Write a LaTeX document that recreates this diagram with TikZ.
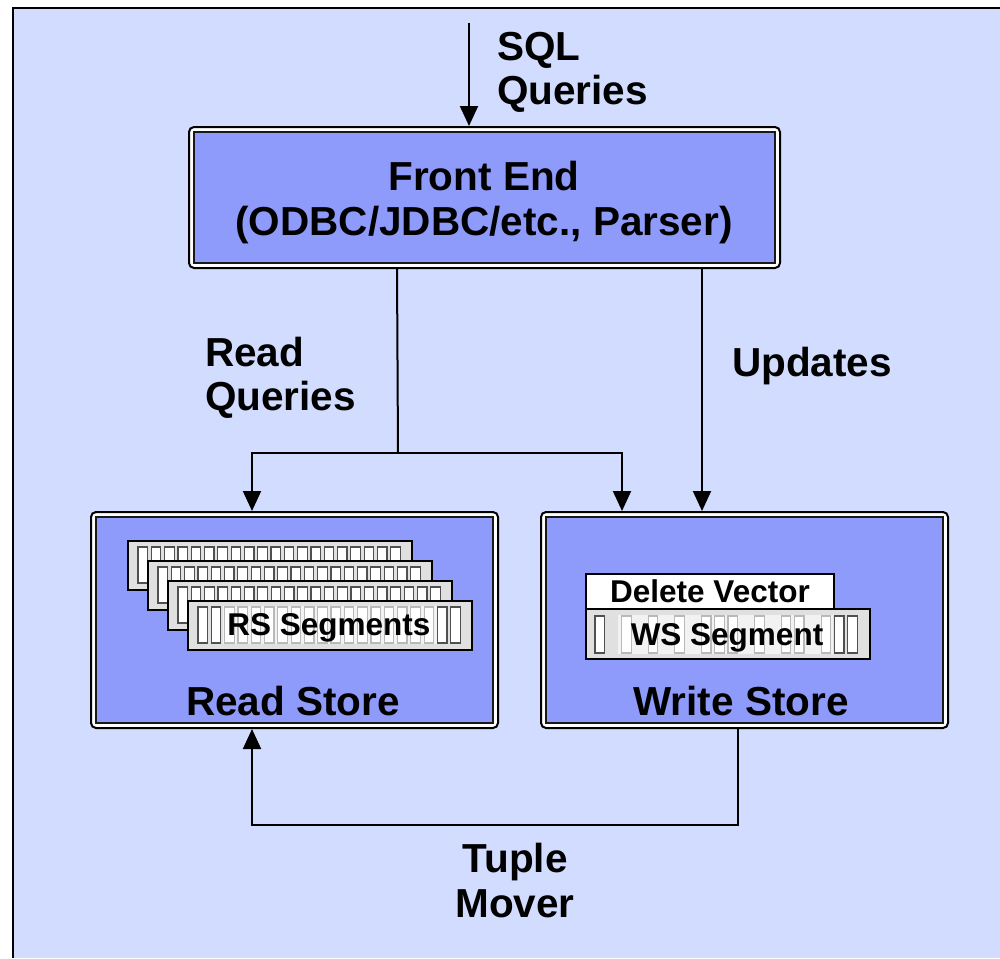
\documentclass[tikz,border=0pt]{standalone}
\usepackage{fontspec}
\setmainfont{Liberation Sans}
\usetikzlibrary{arrows.meta,calc}

\definecolor{bgblue}{RGB}{210,220,255}
\definecolor{boxblue}{RGB}{143,155,251}
\definecolor{bargrey}{RGB}{224,224,224}
\definecolor{cellgrey}{RGB}{80,80,80}

\newcommand\lblfont{\fontsize{40.5pt}{45pt}\selectfont\bfseries}
\newcommand\segfont{\fontsize{31.5pt}{34pt}\selectfont\bfseries}

\begin{document}
\begin{tikzpicture}[x=1pt,y=-1pt,
  outerbox/.style={draw=black, line width=2pt, fill=white, rounded corners=5pt, inner sep=0pt},
  innerbox/.style={draw=black!90, line width=1.6pt, fill=boxblue},
  flow/.style={line width=2pt, -{Triangle[length=20pt,width=18pt]}},
  wire/.style={line width=2pt},
  lbl/.style={font=\lblfont, inner sep=0pt},
  seglbl/.style={font=\segfont, inner sep=0pt},
  segbar/.style={draw=black, line width=1.6pt, fill=bargrey},
  cell/.style={draw=cellgrey, line width=1.2pt, fill=white},
  veil/.style={fill=white, fill opacity=0.6},
]
\useasboundingbox (0,0) rectangle (1000,958);

% backdrop with its left and top rule
\fill[bgblue] (13,8) rectangle (1000,958);
\draw[line width=2.5pt] (13,958) -- (13,8) -- (1000,8);

% front end
\node[outerbox, minimum width=591pt, minimum height=141pt] (fe) at (484.5,197.5) {};
\draw[innerbox] ([shift={(6,6)}]fe.north west) rectangle ([shift={(-6,-6)}]fe.south east);
\node[lbl, anchor=base] (fe1) at (484,190) {Front End};
\node[lbl, anchor=base] (fe2) at (484,235) {(ODBC/JDBC/etc., Parser)};

% read store
\node[outerbox, minimum width=407pt, minimum height=216pt] (rs) at (294.5,620) {};
\draw[innerbox] ([shift={(6,6)}]rs.north west) rectangle ([shift={(-6,-6)}]rs.south east);
\node[lbl, anchor=base] (rslbl) at (293,715) {Read Store};

% write store
\node[outerbox, minimum width=407pt, minimum height=216pt] (ws) at (744.5,620) {};
\draw[innerbox] ([shift={(6,6)}]ws.north west) rectangle ([shift={(-6,-6)}]ws.south east);
\node[lbl, anchor=base] (wslbl) at (741,715) {Write Store};

% stacked RS segments
\foreach \i in {0,...,3} {
  \pgfmathsetmacro\bx{128+20*\i}
  \pgfmathsetmacro\by{541+20*\i}
  \draw[segbar] (\bx,\by) rectangle ++(284,49);
  \foreach \k in {0,...,19}
    \draw[cell] ({\bx+10+13.3*\k},{\by+6}) rectangle ++(9.5,36);
}
\fill[veil] (223,606) rectangle (437,644);
\node[seglbl, anchor=base] (rsseg) at (329,635) {RS Segments};

% delete vector and WS segment
\draw[segbar, fill=white] (586,574) rectangle (834,609);
\node[seglbl, anchor=base] (dv) at (710,602) {Delete Vector};
\draw[segbar] (586,609) rectangle (870,659);
\foreach \k in {0,2,4,6,8,9,10,12,14,15,17,18,19}
  \draw[cell] ({595+13.3*\k},616) rectangle ++(9.5,37);
\fill[veil] (618,615) rectangle (833,654);
\node[seglbl, anchor=base] (wsseg) at (727,645) {WS Segment};

% labels of the flows
\node[lbl, anchor=base west] (sql1) at (497,60) {SQL};
\node[lbl, anchor=base west] (sql2) at (497,104) {Queries};
\node[lbl, anchor=base west] (rq1) at (205,366) {Read};
\node[lbl, anchor=base west] (rq2) at (205,410) {Queries};
\node[lbl, anchor=base west] (upd) at (732,376) {Updates};
\node[lbl, anchor=base] (tm1) at (515,872) {Tuple};
\node[lbl, anchor=base] (tm2) at (515,917) {Mover};

% connectors
\coordinate (sqlin) at (469,23);
\coordinate (rqsplit) at (398,453);
\coordinate (tmturn) at (500,825);

\draw[flow] (sqlin) -- (sqlin |- fe.north);
\draw[wire] ([xshift=209pt]fe.south west) -- (rqsplit);
\draw[flow] (rqsplit) -| ([xshift=162pt]rs.north west);
\draw[flow] (rqsplit) -| ([xshift=82pt]ws.north west);
\draw[flow] ([xshift=514pt]fe.south west) -- ([xshift=162pt]ws.north west);
\draw[flow] ([xshift=198pt]ws.south west) |- (tmturn) -| ([xshift=162pt]rs.south west);
\end{tikzpicture}
\end{document}
